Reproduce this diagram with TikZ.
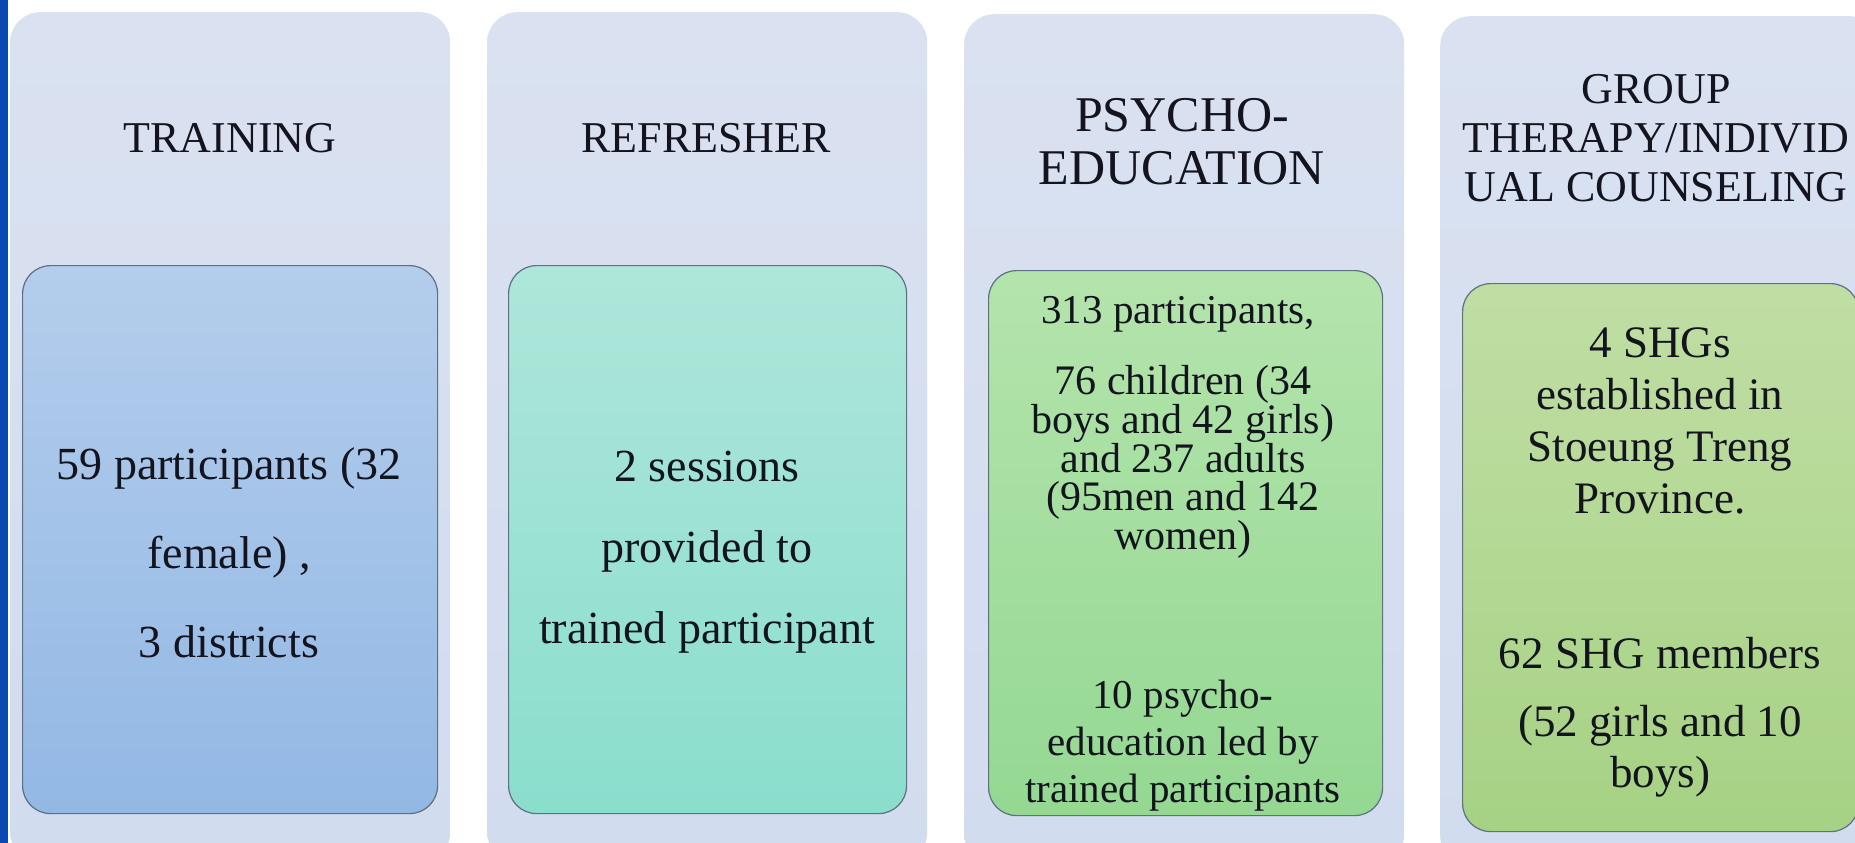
\documentclass[tikz,border=0pt]{standalone}
\usepackage{fontspec}
\setmainfont{Liberation Serif}
\definecolor{barblue}{RGB}{10,74,176}
\definecolor{outerT}{RGB}{218,226,241}
\definecolor{outerB}{RGB}{210,220,239}
\definecolor{inOneT}{RGB}{180,205,236}
\definecolor{inOneB}{RGB}{146,184,228}
\definecolor{inTwoT}{RGB}{174,230,218}
\definecolor{inTwoB}{RGB}{138,222,204}
\definecolor{inThreeT}{RGB}{180,228,172}
\definecolor{inThreeB}{RGB}{148,216,146}
\definecolor{inFourT}{RGB}{192,222,164}
\definecolor{inFourB}{RGB}{166,210,132}
\definecolor{edge}{RGB}{95,112,130}
\definecolor{ink}{RGB}{20,20,30}
\begin{document}
\begin{tikzpicture}[x=1pt,y=-1pt,
  outercard/.style={draw=none, rounded corners=30pt, top color=outerT, bottom color=outerB,
    minimum width=440pt, minimum height=850pt, anchor=north west, inner sep=0pt},
  innercard/.style={draw=edge, line width=1.2pt, rounded corners=28pt, anchor=north west, inner sep=0pt},
  ttl/.style={text=ink, align=center, font=\fontsize{44}{50}\selectfont},
  body/.style={text=ink, align=center, font=\fontsize{42}{48}\selectfont}]
\useasboundingbox (0,0) rectangle (1855,843);
\clip (0,0) rectangle (1855,843);
\fill[white] (0,0) rectangle (1855,843);
\fill[barblue] (0,0) rectangle (8,843);
% outer cards
\node[outercard] (o1) at (10,12) {};
\node[outercard] (o2) at (487,12) {};
\node[outercard] (o3) at (964,14) {};
\node[outercard] (o4) at (1440,16) {};
% inner cards
\node[innercard, top color=inOneT, bottom color=inOneB, minimum width=415pt, minimum height=548pt] (i1) at (22,265) {};
\node[innercard, top color=inTwoT, bottom color=inTwoB, minimum width=398pt, minimum height=548pt] (i2) at (508,265) {};
\node[innercard, top color=inThreeT, bottom color=inThreeB, minimum width=394pt, minimum height=545pt] (i3) at (988,270) {};
\node[innercard, top color=inFourT, bottom color=inFourB, minimum width=396pt, minimum height=548pt] (i4) at (1462,283) {};
% titles
\node[ttl] (t1) at (230,138) {TRAINING};
\node[ttl] (t2) at (706,138) {REFRESHER};
\node[ttl, font=\fontsize{50}{53}\selectfont] (t3) at (1182,142) {PSYCHO-\\EDUCATION};
\node[ttl, font=\fontsize{44}{49}\selectfont] (t4) at (1656,138) {GROUP\\THERAPY/INDIVID\\UAL COUNSELING};
% bodies
\node[body, font=\fontsize{46}{89}\selectfont] (b1) at (229,553) {59 participants (32\\female) ,\\3 districts};
\node[body, font=\fontsize{46}{81}\selectfont] (b2) at (707,552) {2 sessions\\provided to\\trained participant};
\node[body, font=\fontsize{41}{40}\selectfont] (b3a) at (1178,314) {313 participants,};
\node[body, font=\fontsize{42}{38}\selectfont] (b3b) at (1183,462) {76 children (34\\boys and 42 girls)\\and 237 adults\\(95men and 142\\women)};
\node[body, font=\fontsize{41}{47}\selectfont] (b3c) at (1183,746) {10 psycho-\\education led by\\trained participants};
\node[body, font=\fontsize{45}{52}\selectfont] (b4a) at (1660,421) {4 SHGs\\established in\\Stoeung Treng\\Province.};
\node[body, font=\fontsize{45}{52}\selectfont] (b4b) at (1660,653) {62 SHG members};
\node[body, font=\fontsize{45}{51}\selectfont] (b4c) at (1660,751) {(52 girls and 10\\boys)};
\end{tikzpicture}
\end{document}
